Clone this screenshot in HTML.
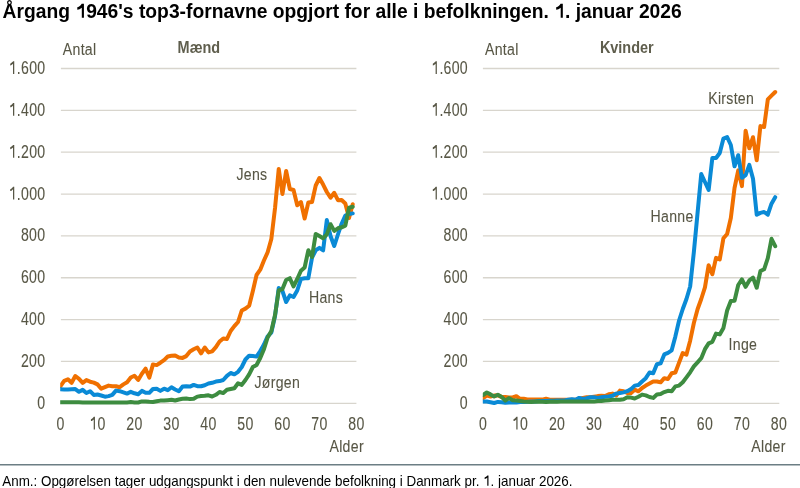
<!DOCTYPE html>
<html><head><meta charset="utf-8"><style>
html,body{margin:0;padding:0;background:#fff;}
body{width:800px;height:488px;overflow:hidden;position:relative;}
svg{position:absolute;left:0;top:0;will-change:transform;}
text{font-family:"Liberation Sans",sans-serif;}
.one{fill-opacity:0;stroke-opacity:0;}
</style></head><body>
<svg width="800" height="488" viewBox="0 0 800 488">
<text transform="translate(2.6,17.8) scale(1,1.035)" font-size="19.28" font-weight="bold" fill="#000">Årgang <tspan class="one">1</tspan>946's top3-fornavne opgjort for alle i befolkningen. <tspan class="one">1</tspan>. januar 2026</text><path transform="translate(2.6,17.8) scale(1,1.035) translate(72.809,0.000) scale(0.009414,-0.009414)" d="M905,0L680,0L680,1040C610,975 530,925 440,890C370,862 290,845 200,835L200,1075C310,1105 410,1155 500,1225C580,1290 630,1360 665,1440L905,1440Z" fill="#000"/><path transform="translate(2.6,17.8) scale(1,1.035) translate(551.700,0.000) scale(0.009414,-0.009414)" d="M905,0L680,0L680,1040C610,975 530,925 440,890C370,862 290,845 200,835L200,1075C310,1105 410,1155 500,1225C580,1290 630,1360 665,1440L905,1440Z" fill="#000"/>
<g fill="#575645">
<line x1="60.9" y1="403.30" x2="356.4" y2="403.30" stroke="#d8d5cd" stroke-width="1.3"/>
<line x1="60.9" y1="361.45" x2="356.4" y2="361.45" stroke="#d8d5cd" stroke-width="1.3"/>
<line x1="60.9" y1="319.60" x2="356.4" y2="319.60" stroke="#d8d5cd" stroke-width="1.3"/>
<line x1="60.9" y1="277.75" x2="356.4" y2="277.75" stroke="#d8d5cd" stroke-width="1.3"/>
<line x1="60.9" y1="235.90" x2="356.4" y2="235.90" stroke="#d8d5cd" stroke-width="1.3"/>
<line x1="60.9" y1="194.05" x2="356.4" y2="194.05" stroke="#d8d5cd" stroke-width="1.3"/>
<line x1="60.9" y1="152.20" x2="356.4" y2="152.20" stroke="#d8d5cd" stroke-width="1.3"/>
<line x1="60.9" y1="110.35" x2="356.4" y2="110.35" stroke="#d8d5cd" stroke-width="1.3"/>
<line x1="60.9" y1="68.50" x2="356.4" y2="68.50" stroke="#d8d5cd" stroke-width="1.3"/>
<text transform="translate(45.40,408.80) scale(0.83,1.04)" text-anchor="end" font-size="17" letter-spacing="0.35" stroke="#575645" stroke-width="0.1">0</text>
<text transform="translate(45.40,366.95) scale(0.83,1.04)" text-anchor="end" font-size="17" letter-spacing="0.35" stroke="#575645" stroke-width="0.1">200</text>
<text transform="translate(45.40,325.10) scale(0.83,1.04)" text-anchor="end" font-size="17" letter-spacing="0.35" stroke="#575645" stroke-width="0.1">400</text>
<text transform="translate(45.40,283.25) scale(0.83,1.04)" text-anchor="end" font-size="17" letter-spacing="0.35" stroke="#575645" stroke-width="0.1">600</text>
<text transform="translate(45.40,241.40) scale(0.83,1.04)" text-anchor="end" font-size="17" letter-spacing="0.35" stroke="#575645" stroke-width="0.1">800</text>
<text transform="translate(45.40,199.55) scale(0.83,1.04)" text-anchor="end" font-size="17" letter-spacing="0.35" stroke="#575645" stroke-width="0.1"><tspan class="one">1</tspan>.000</text><path transform="translate(45.40,199.55) scale(0.83,1.04) translate(-44.290,0.000) scale(0.008301,-0.008301)" d="M815,0L635,0L635,1180C590,1135 530,1095 460,1060C390,1025 310,1000 230,985L230,1200C330,1235 420,1290 500,1350C570,1400 620,1440 650,1480L815,1480Z" fill="#575645"/>
<text transform="translate(45.40,157.70) scale(0.83,1.04)" text-anchor="end" font-size="17" letter-spacing="0.35" stroke="#575645" stroke-width="0.1"><tspan class="one">1</tspan>.200</text><path transform="translate(45.40,157.70) scale(0.83,1.04) translate(-44.290,0.000) scale(0.008301,-0.008301)" d="M815,0L635,0L635,1180C590,1135 530,1095 460,1060C390,1025 310,1000 230,985L230,1200C330,1235 420,1290 500,1350C570,1400 620,1440 650,1480L815,1480Z" fill="#575645"/>
<text transform="translate(45.40,115.85) scale(0.83,1.04)" text-anchor="end" font-size="17" letter-spacing="0.35" stroke="#575645" stroke-width="0.1"><tspan class="one">1</tspan>.400</text><path transform="translate(45.40,115.85) scale(0.83,1.04) translate(-44.290,0.000) scale(0.008301,-0.008301)" d="M815,0L635,0L635,1180C590,1135 530,1095 460,1060C390,1025 310,1000 230,985L230,1200C330,1235 420,1290 500,1350C570,1400 620,1440 650,1480L815,1480Z" fill="#575645"/>
<text transform="translate(45.40,74.00) scale(0.83,1.04)" text-anchor="end" font-size="17" letter-spacing="0.35" stroke="#575645" stroke-width="0.1"><tspan class="one">1</tspan>.600</text><path transform="translate(45.40,74.00) scale(0.83,1.04) translate(-44.290,0.000) scale(0.008301,-0.008301)" d="M815,0L635,0L635,1180C590,1135 530,1095 460,1060C390,1025 310,1000 230,985L230,1200C330,1235 420,1290 500,1350C570,1400 620,1440 650,1480L815,1480Z" fill="#575645"/>
<text transform="translate(60.50,429.60) scale(0.83,1.04)" text-anchor="middle" font-size="17" letter-spacing="0.35" stroke="#575645" stroke-width="0.1">0</text>
<text transform="translate(97.49,429.60) scale(0.83,1.04)" text-anchor="middle" font-size="17" letter-spacing="0.35" stroke="#575645" stroke-width="0.1"><tspan class="one">1</tspan>0</text><path transform="translate(97.49,429.60) scale(0.83,1.04) translate(-9.815,0.000) scale(0.008301,-0.008301)" d="M815,0L635,0L635,1180C590,1135 530,1095 460,1060C390,1025 310,1000 230,985L230,1200C330,1235 420,1290 500,1350C570,1400 620,1440 650,1480L815,1480Z" fill="#575645"/>
<text transform="translate(134.48,429.60) scale(0.83,1.04)" text-anchor="middle" font-size="17" letter-spacing="0.35" stroke="#575645" stroke-width="0.1">20</text>
<text transform="translate(171.47,429.60) scale(0.83,1.04)" text-anchor="middle" font-size="17" letter-spacing="0.35" stroke="#575645" stroke-width="0.1">30</text>
<text transform="translate(208.46,429.60) scale(0.83,1.04)" text-anchor="middle" font-size="17" letter-spacing="0.35" stroke="#575645" stroke-width="0.1">40</text>
<text transform="translate(245.45,429.60) scale(0.83,1.04)" text-anchor="middle" font-size="17" letter-spacing="0.35" stroke="#575645" stroke-width="0.1">50</text>
<text transform="translate(282.44,429.60) scale(0.83,1.04)" text-anchor="middle" font-size="17" letter-spacing="0.35" stroke="#575645" stroke-width="0.1">60</text>
<text transform="translate(319.43,429.60) scale(0.83,1.04)" text-anchor="middle" font-size="17" letter-spacing="0.35" stroke="#575645" stroke-width="0.1">70</text>
<text transform="translate(356.42,429.60) scale(0.83,1.04)" text-anchor="middle" font-size="17" letter-spacing="0.35" stroke="#575645" stroke-width="0.1">80</text>
<clipPath id="c60"><rect x="60.20" y="0" width="320" height="460"/></clipPath><g clip-path="url(#c60)">
<polyline fill="none" stroke="#f07000" stroke-width="4.0" stroke-linejoin="round" stroke-linecap="round" points="60.50,386.0 64.20,380.8 67.90,379.3 71.60,382.8 75.30,376.0 79.00,378.9 82.69,382.9 86.39,380.1 90.09,381.7 93.79,382.6 97.49,384.4 101.19,388.7 104.89,387.1 108.59,385.6 112.29,386.2 115.98,386.2 119.68,387.2 123.38,384.4 127.08,382.2 130.78,377.5 134.48,375.7 138.18,379.9 141.88,373.7 145.58,368.7 149.28,377.6 152.97,364.4 156.67,365.1 160.37,362.7 164.07,360.1 167.77,356.5 171.47,355.8 175.17,355.5 178.87,357.5 182.57,357.9 186.27,356.1 189.97,351.5 193.66,349.3 197.36,347.5 201.06,353.3 204.76,347.5 208.46,352.4 212.16,351.3 215.86,347.2 219.56,341.5 223.26,338.5 226.95,339.0 230.65,331.0 234.35,326.1 238.05,322.0 241.75,310.5 245.45,308.6 249.15,305.7 252.85,291.0 256.55,275.0 260.25,269.7 263.94,260.5 267.64,252.3 271.34,239.0 275.04,208.0 278.74,169.0 282.44,194.0 286.14,171.0 289.84,189.0 293.54,190.0 297.24,205.3 300.94,202.0 304.63,218.5 308.33,202.5 312.03,202.0 315.73,185.5 319.43,178.0 323.13,184.6 326.83,192.0 330.53,197.7 334.23,192.8 337.93,200.2 341.62,200.0 345.32,203.5 349.02,218.0 352.72,204.3"/>
<polyline fill="none" stroke="#0a8ad6" stroke-width="4.0" stroke-linejoin="round" stroke-linecap="round" points="60.50,389.3 64.20,389.6 67.90,389.6 71.60,389.3 75.30,389.1 79.00,391.8 82.69,389.9 86.39,393.0 90.09,391.2 93.79,394.9 97.49,394.5 101.19,395.5 104.89,396.7 108.59,396.1 112.29,394.9 115.98,390.6 119.68,391.2 123.38,392.4 127.08,393.6 130.78,391.8 134.48,393.3 138.18,394.2 141.88,390.9 145.58,392.8 149.28,392.8 152.97,389.0 156.67,388.7 160.37,390.9 164.07,388.7 167.77,390.2 171.47,387.3 175.17,389.5 178.87,391.3 182.57,386.6 186.27,386.2 189.97,386.6 193.66,384.9 197.36,386.2 201.06,386.2 204.76,385.2 208.46,383.5 212.16,382.8 215.86,381.6 219.56,381.1 223.26,380.0 226.95,375.9 230.65,373.0 234.35,374.3 238.05,371.8 241.75,367.0 245.45,359.5 249.15,355.7 252.85,356.1 256.55,356.6 260.25,351.0 263.94,344.6 267.64,336.3 271.34,332.6 275.04,316.0 278.74,288.0 282.44,291.0 286.14,302.0 289.84,295.4 293.54,297.0 297.24,290.5 300.94,279.0 304.63,278.2 308.33,278.2 312.03,257.7 315.73,250.3 319.43,247.9 323.13,250.3 326.83,220.1 330.53,236.0 334.23,246.0 337.93,234.5 341.62,223.7 345.32,215.5 349.02,214.0 352.72,213.4"/>
<polyline fill="none" stroke="#3d8c40" stroke-width="4.0" stroke-linejoin="round" stroke-linecap="round" points="60.50,402.2 64.20,402.2 67.90,402.2 71.60,402.2 75.30,402.2 79.00,402.2 82.69,402.4 86.39,402.4 90.09,402.4 93.79,402.4 97.49,402.4 101.19,402.4 104.89,402.4 108.59,402.4 112.29,402.4 115.98,402.4 119.68,402.4 123.38,402.4 127.08,402.4 130.78,402.1 134.48,402.5 138.18,402.5 141.88,401.4 145.58,401.4 149.28,401.8 152.97,402.0 156.67,401.3 160.37,400.6 164.07,400.6 167.77,400.2 171.47,399.8 175.17,400.5 178.87,399.5 182.57,398.8 186.27,398.5 189.97,399.1 193.66,398.8 197.36,396.6 201.06,396.0 204.76,395.8 208.46,395.3 212.16,396.5 215.86,394.8 219.56,392.0 223.26,393.1 226.95,389.8 230.65,389.0 234.35,388.2 238.05,383.3 241.75,384.9 245.45,380.0 249.15,374.3 252.85,367.0 256.55,365.0 260.25,358.0 263.94,349.2 267.64,337.5 271.34,331.0 275.04,315.0 278.74,290.3 282.44,289.0 286.14,280.0 289.84,278.2 293.54,286.4 297.24,279.0 300.94,270.8 304.63,267.5 308.33,250.3 312.03,256.9 315.73,233.9 319.43,236.0 323.13,238.3 326.83,234.4 330.53,224.2 334.23,230.9 337.93,228.3 341.62,227.3 345.32,225.7 349.02,207.8 352.72,206.8"/>
</g>
<text transform="translate(177.60,53.10) scale(0.85,1.0)" text-anchor="start" font-weight="bold" font-size="17" fill="#5f5e4d">Mænd</text>
<text transform="translate(62.80,55.30) scale(0.83,1.0)" text-anchor="start" font-size="17" letter-spacing="0.35" stroke="#575645" stroke-width="0.1">Antal</text>
<text transform="translate(329.50,452.30) scale(0.83,1.0)" text-anchor="start" font-size="17" letter-spacing="0.35" stroke="#575645" stroke-width="0.1">Alder</text>
<text transform="translate(236.50,180.10) scale(0.83,1.0)" text-anchor="start" font-size="17" letter-spacing="0.35" stroke="#575645" stroke-width="0.1">Jens</text>
<text transform="translate(309.00,302.60) scale(0.83,1.0)" text-anchor="start" font-size="17" letter-spacing="0.35" stroke="#575645" stroke-width="0.1">Hans</text>
<text transform="translate(254.50,387.60) scale(0.83,1.0)" text-anchor="start" font-size="17" letter-spacing="0.35" stroke="#575645" stroke-width="0.1">Jørgen</text>
<line x1="482.9" y1="403.30" x2="779.3" y2="403.30" stroke="#d8d5cd" stroke-width="1.3"/>
<line x1="482.9" y1="361.45" x2="779.3" y2="361.45" stroke="#d8d5cd" stroke-width="1.3"/>
<line x1="482.9" y1="319.60" x2="779.3" y2="319.60" stroke="#d8d5cd" stroke-width="1.3"/>
<line x1="482.9" y1="277.75" x2="779.3" y2="277.75" stroke="#d8d5cd" stroke-width="1.3"/>
<line x1="482.9" y1="235.90" x2="779.3" y2="235.90" stroke="#d8d5cd" stroke-width="1.3"/>
<line x1="482.9" y1="194.05" x2="779.3" y2="194.05" stroke="#d8d5cd" stroke-width="1.3"/>
<line x1="482.9" y1="152.20" x2="779.3" y2="152.20" stroke="#d8d5cd" stroke-width="1.3"/>
<line x1="482.9" y1="110.35" x2="779.3" y2="110.35" stroke="#d8d5cd" stroke-width="1.3"/>
<line x1="482.9" y1="68.50" x2="779.3" y2="68.50" stroke="#d8d5cd" stroke-width="1.3"/>
<text transform="translate(468.00,408.80) scale(0.83,1.04)" text-anchor="end" font-size="17" letter-spacing="0.35" stroke="#575645" stroke-width="0.1">0</text>
<text transform="translate(468.00,366.95) scale(0.83,1.04)" text-anchor="end" font-size="17" letter-spacing="0.35" stroke="#575645" stroke-width="0.1">200</text>
<text transform="translate(468.00,325.10) scale(0.83,1.04)" text-anchor="end" font-size="17" letter-spacing="0.35" stroke="#575645" stroke-width="0.1">400</text>
<text transform="translate(468.00,283.25) scale(0.83,1.04)" text-anchor="end" font-size="17" letter-spacing="0.35" stroke="#575645" stroke-width="0.1">600</text>
<text transform="translate(468.00,241.40) scale(0.83,1.04)" text-anchor="end" font-size="17" letter-spacing="0.35" stroke="#575645" stroke-width="0.1">800</text>
<text transform="translate(468.00,199.55) scale(0.83,1.04)" text-anchor="end" font-size="17" letter-spacing="0.35" stroke="#575645" stroke-width="0.1"><tspan class="one">1</tspan>.000</text><path transform="translate(468.00,199.55) scale(0.83,1.04) translate(-44.290,0.000) scale(0.008301,-0.008301)" d="M815,0L635,0L635,1180C590,1135 530,1095 460,1060C390,1025 310,1000 230,985L230,1200C330,1235 420,1290 500,1350C570,1400 620,1440 650,1480L815,1480Z" fill="#575645"/>
<text transform="translate(468.00,157.70) scale(0.83,1.04)" text-anchor="end" font-size="17" letter-spacing="0.35" stroke="#575645" stroke-width="0.1"><tspan class="one">1</tspan>.200</text><path transform="translate(468.00,157.70) scale(0.83,1.04) translate(-44.290,0.000) scale(0.008301,-0.008301)" d="M815,0L635,0L635,1180C590,1135 530,1095 460,1060C390,1025 310,1000 230,985L230,1200C330,1235 420,1290 500,1350C570,1400 620,1440 650,1480L815,1480Z" fill="#575645"/>
<text transform="translate(468.00,115.85) scale(0.83,1.04)" text-anchor="end" font-size="17" letter-spacing="0.35" stroke="#575645" stroke-width="0.1"><tspan class="one">1</tspan>.400</text><path transform="translate(468.00,115.85) scale(0.83,1.04) translate(-44.290,0.000) scale(0.008301,-0.008301)" d="M815,0L635,0L635,1180C590,1135 530,1095 460,1060C390,1025 310,1000 230,985L230,1200C330,1235 420,1290 500,1350C570,1400 620,1440 650,1480L815,1480Z" fill="#575645"/>
<text transform="translate(468.00,74.00) scale(0.83,1.04)" text-anchor="end" font-size="17" letter-spacing="0.35" stroke="#575645" stroke-width="0.1"><tspan class="one">1</tspan>.600</text><path transform="translate(468.00,74.00) scale(0.83,1.04) translate(-44.290,0.000) scale(0.008301,-0.008301)" d="M815,0L635,0L635,1180C590,1135 530,1095 460,1060C390,1025 310,1000 230,985L230,1200C330,1235 420,1290 500,1350C570,1400 620,1440 650,1480L815,1480Z" fill="#575645"/>
<text transform="translate(483.10,429.60) scale(0.83,1.04)" text-anchor="middle" font-size="17" letter-spacing="0.35" stroke="#575645" stroke-width="0.1">0</text>
<text transform="translate(520.08,429.60) scale(0.83,1.04)" text-anchor="middle" font-size="17" letter-spacing="0.35" stroke="#575645" stroke-width="0.1"><tspan class="one">1</tspan>0</text><path transform="translate(520.08,429.60) scale(0.83,1.04) translate(-9.815,0.000) scale(0.008301,-0.008301)" d="M815,0L635,0L635,1180C590,1135 530,1095 460,1060C390,1025 310,1000 230,985L230,1200C330,1235 420,1290 500,1350C570,1400 620,1440 650,1480L815,1480Z" fill="#575645"/>
<text transform="translate(557.05,429.60) scale(0.83,1.04)" text-anchor="middle" font-size="17" letter-spacing="0.35" stroke="#575645" stroke-width="0.1">20</text>
<text transform="translate(594.02,429.60) scale(0.83,1.04)" text-anchor="middle" font-size="17" letter-spacing="0.35" stroke="#575645" stroke-width="0.1">30</text>
<text transform="translate(631.00,429.60) scale(0.83,1.04)" text-anchor="middle" font-size="17" letter-spacing="0.35" stroke="#575645" stroke-width="0.1">40</text>
<text transform="translate(667.98,429.60) scale(0.83,1.04)" text-anchor="middle" font-size="17" letter-spacing="0.35" stroke="#575645" stroke-width="0.1">50</text>
<text transform="translate(704.95,429.60) scale(0.83,1.04)" text-anchor="middle" font-size="17" letter-spacing="0.35" stroke="#575645" stroke-width="0.1">60</text>
<text transform="translate(741.92,429.60) scale(0.83,1.04)" text-anchor="middle" font-size="17" letter-spacing="0.35" stroke="#575645" stroke-width="0.1">70</text>
<text transform="translate(778.90,429.60) scale(0.83,1.04)" text-anchor="middle" font-size="17" letter-spacing="0.35" stroke="#575645" stroke-width="0.1">80</text>
<clipPath id="c483"><rect x="482.80" y="0" width="320" height="460"/></clipPath><g clip-path="url(#c483)">
<polyline fill="none" stroke="#f07000" stroke-width="4.0" stroke-linejoin="round" stroke-linecap="round" points="483.10,398.1 486.80,395.6 490.50,396.5 494.19,395.6 497.89,395.3 501.59,396.9 505.29,396.9 508.98,397.5 512.68,397.5 516.38,396.2 520.08,398.8 523.77,398.8 527.47,399.4 531.17,399.4 534.87,399.6 538.56,399.6 542.26,399.6 545.96,398.8 549.65,399.8 553.35,399.8 557.05,399.8 560.75,399.8 564.45,399.8 568.14,399.8 571.84,399.8 575.54,399.8 579.24,398.5 582.93,397.9 586.63,397.3 590.33,397.3 594.02,396.7 597.72,396.1 601.42,395.7 605.12,396.1 608.82,394.2 612.51,393.6 616.21,395.5 619.91,390.6 623.61,391.2 627.30,393.0 631.00,393.0 634.70,389.7 638.39,391.3 642.09,388.0 645.79,385.6 649.49,383.6 653.18,381.5 656.88,381.5 660.58,382.3 664.28,378.2 667.98,379.0 671.67,373.3 675.37,372.5 679.07,362.6 682.76,353.0 686.46,354.6 690.16,340.7 693.86,323.0 697.56,309.2 701.25,299.0 704.95,287.4 708.65,265.2 712.35,274.3 716.04,257.9 719.74,259.5 723.44,238.2 727.13,234.0 730.83,218.0 734.53,188.0 738.23,170.4 741.92,186.1 745.62,130.7 749.32,148.3 753.02,137.2 756.72,160.3 760.41,126.1 764.11,127.0 767.81,99.4 771.50,95.7 775.20,92.0"/>
<polyline fill="none" stroke="#0a8ad6" stroke-width="4.0" stroke-linejoin="round" stroke-linecap="round" points="483.10,401.5 486.80,401.5 490.50,402.2 494.19,403.0 497.89,401.9 501.59,402.2 505.29,402.8 508.98,402.5 512.68,402.5 516.38,402.6 520.08,402.0 523.77,402.0 527.47,401.8 531.17,401.5 534.87,401.5 538.56,401.0 542.26,401.0 545.96,401.0 549.65,400.8 553.35,400.8 557.05,400.6 560.75,400.6 564.45,400.4 568.14,399.8 571.84,399.2 575.54,399.8 579.24,397.9 582.93,398.9 586.63,398.2 590.33,397.3 594.02,397.3 597.72,397.9 601.42,397.3 605.12,396.7 608.82,396.5 612.51,395.7 616.21,393.6 619.91,393.0 623.61,392.4 627.30,391.2 631.00,389.1 634.70,385.6 638.39,385.0 642.09,381.5 645.79,378.2 649.49,372.5 653.18,373.3 656.88,364.3 660.58,363.4 664.28,354.4 667.98,352.8 671.67,350.3 675.37,336.4 679.07,320.5 682.76,309.0 686.46,299.0 690.16,286.5 693.86,252.0 697.56,213.0 701.25,174.0 704.95,182.0 708.65,190.0 712.35,158.0 716.04,158.0 719.74,153.0 723.44,138.5 727.13,137.0 730.83,145.0 734.53,166.3 738.23,155.2 741.92,177.8 745.62,175.1 749.32,164.9 753.02,178.7 756.72,214.7 760.41,212.9 764.11,212.0 767.81,214.7 771.50,203.7 775.20,197.2"/>
<polyline fill="none" stroke="#3d8c40" stroke-width="4.0" stroke-linejoin="round" stroke-linecap="round" points="483.10,395.0 486.80,392.5 490.50,394.4 494.19,396.5 497.89,394.8 501.59,396.9 505.29,400.6 508.98,398.1 512.68,400.3 516.38,400.6 520.08,401.0 523.77,401.5 527.47,401.8 531.17,402.0 534.87,401.8 538.56,401.6 542.26,401.8 545.96,402.0 549.65,401.8 553.35,401.6 557.05,401.8 560.75,401.6 564.45,401.6 568.14,401.6 571.84,401.6 575.54,401.6 579.24,401.6 582.93,401.6 586.63,401.6 590.33,401.6 594.02,401.6 597.72,401.0 601.42,401.0 605.12,400.6 608.82,400.2 612.51,399.8 616.21,399.8 619.91,399.8 623.61,399.2 627.30,397.3 631.00,397.6 634.70,398.5 638.39,396.8 642.09,394.6 645.79,395.4 649.49,397.0 653.18,397.9 656.88,394.6 660.58,394.1 664.28,392.1 667.98,390.8 671.67,391.3 675.37,386.4 679.07,385.6 682.76,382.3 686.46,377.4 690.16,372.3 693.86,366.4 697.56,362.3 701.25,358.2 704.95,349.2 708.65,343.4 712.35,341.8 716.04,333.6 719.74,334.4 723.44,327.9 727.13,310.5 730.83,301.0 734.53,300.7 738.23,285.0 741.92,279.4 745.62,286.8 749.32,280.4 753.02,277.6 756.72,287.7 760.41,271.1 764.11,269.3 767.81,258.2 771.50,238.8 775.20,246.2"/>
</g>
<text transform="translate(599.90,53.10) scale(0.85,1.0)" text-anchor="start" font-weight="bold" font-size="17" fill="#5f5e4d">Kvinder</text>
<text transform="translate(485.00,55.30) scale(0.83,1.0)" text-anchor="start" font-size="17" letter-spacing="0.35" stroke="#575645" stroke-width="0.1">Antal</text>
<text transform="translate(751.30,452.30) scale(0.83,1.0)" text-anchor="start" font-size="17" letter-spacing="0.35" stroke="#575645" stroke-width="0.1">Alder</text>
<text transform="translate(708.20,104.30) scale(0.83,1.0)" text-anchor="start" font-size="17" letter-spacing="0.35" stroke="#575645" stroke-width="0.1">Kirsten</text>
<text transform="translate(650.60,221.50) scale(0.83,1.0)" text-anchor="start" font-size="17" letter-spacing="0.35" stroke="#575645" stroke-width="0.1">Hanne</text>
<text transform="translate(728.60,350.20) scale(0.83,1.0)" text-anchor="start" font-size="17" letter-spacing="0.35" stroke="#575645" stroke-width="0.1">Inge</text>
</g>
<line x1="0" y1="464.75" x2="800" y2="464.75" stroke="#6c7e84" stroke-width="1.35"/>
<text transform="translate(2.3,485.8) scale(1,1.06)" font-size="13.4" fill="#000">Anm.: Opgørelsen tager udgangspunkt i den nulevende befolkning i Danmark pr. <tspan class="one">1</tspan>. januar 2026.</text><path transform="translate(2.3,485.8) scale(1,1.06) translate(480.834,0.000) scale(0.006543,-0.006543)" d="M815,0L635,0L635,1180C590,1135 530,1095 460,1060C390,1025 310,1000 230,985L230,1200C330,1235 420,1290 500,1350C570,1400 620,1440 650,1480L815,1480Z" fill="#000"/>
</svg>
</body></html>
